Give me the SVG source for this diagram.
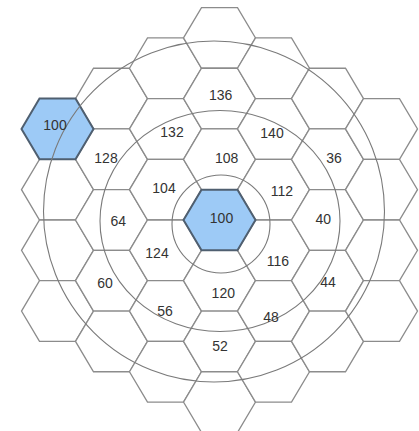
<svg xmlns="http://www.w3.org/2000/svg" xmlns:xlink="http://www.w3.org/1999/xlink" width="419" height="431" viewBox="0 0 419 431">
<style>
  .hex { fill: #ffffff; stroke: #8c8c8c; stroke-width: 1.3; }
  .sel { fill: #9dcaf6; stroke: #4f5f70; stroke-width: 2; }
  .ring { fill: none; stroke: #7a7a7a; stroke-width: 1.1; }
  .lbl { font-family: "Liberation Sans", Arial, sans-serif; font-size: 14px; fill: #333333; text-anchor: middle; }
</style>
<defs>
  <polygon id="h" points="-36,0 -18,-30.35 18,-30.35 36,0 18,30.35 -18,30.35"/>
</defs>
<rect width="419" height="431" fill="#ffffff"/>
<g id="cells">
  <!-- column k=-3 -->
  <g id="hex-m3-0"><use href="#h" class="hex" x="57.5" y="189.65"/></g>
  <g id="hex-m3-1"><use href="#h" class="hex" x="57.5" y="250.35"/></g>
  <g id="hex-m3-2"><use href="#h" class="hex" x="57.5" y="311.05"/></g>
  <!-- column k=-2 -->
  <g id="hex-m2-0"><use href="#h" class="hex" x="111.5" y="98.6"/></g>
  <g id="hex-128"><use href="#h" class="hex" x="111.5" y="159.3"/></g>
  <g id="hex-64"><use href="#h" class="hex" x="111.5" y="220"/></g>
  <g id="hex-60"><use href="#h" class="hex" x="111.5" y="280.7"/></g>
  <g id="hex-m2-4"><use href="#h" class="hex" x="111.5" y="341.4"/></g>
  <!-- column k=-1 -->
  <g id="hex-m1-0"><use href="#h" class="hex" x="165.5" y="68.25"/></g>
  <g id="hex-132"><use href="#h" class="hex" x="165.5" y="128.95"/></g>
  <g id="hex-104"><use href="#h" class="hex" x="165.5" y="189.65"/></g>
  <g id="hex-124"><use href="#h" class="hex" x="165.5" y="250.35"/></g>
  <g id="hex-56"><use href="#h" class="hex" x="165.5" y="311.05"/></g>
  <g id="hex-m1-5"><use href="#h" class="hex" x="165.5" y="371.75"/></g>
  <!-- column k=0 -->
  <g id="hex-0-0"><use href="#h" class="hex" x="219.5" y="37.9"/></g>
  <g id="hex-136"><use href="#h" class="hex" x="219.5" y="98.6"/></g>
  <g id="hex-108"><use href="#h" class="hex" x="219.5" y="159.3"/></g>
  <g id="hex-120"><use href="#h" class="hex" x="219.5" y="280.7"/></g>
  <g id="hex-52"><use href="#h" class="hex" x="219.5" y="341.4"/></g>
  <g id="hex-0-6"><use href="#h" class="hex" x="219.5" y="402.1"/></g>
  <!-- column k=1 -->
  <g id="hex-p1-0"><use href="#h" class="hex" x="273.5" y="68.25"/></g>
  <g id="hex-140"><use href="#h" class="hex" x="273.5" y="128.95"/></g>
  <g id="hex-112"><use href="#h" class="hex" x="273.5" y="189.65"/></g>
  <g id="hex-116"><use href="#h" class="hex" x="273.5" y="250.35"/></g>
  <g id="hex-48"><use href="#h" class="hex" x="273.5" y="311.05"/></g>
  <g id="hex-p1-5"><use href="#h" class="hex" x="273.5" y="371.75"/></g>
  <!-- column k=2 -->
  <g id="hex-p2-0"><use href="#h" class="hex" x="327.5" y="98.6"/></g>
  <g id="hex-36"><use href="#h" class="hex" x="327.5" y="159.3"/></g>
  <g id="hex-40"><use href="#h" class="hex" x="327.5" y="220"/></g>
  <g id="hex-44"><use href="#h" class="hex" x="327.5" y="280.7"/></g>
  <g id="hex-p2-4"><use href="#h" class="hex" x="327.5" y="341.4"/></g>
  <!-- column k=3 -->
  <g id="hex-p3-0"><use href="#h" class="hex" x="381.5" y="128.95"/></g>
  <g id="hex-p3-1"><use href="#h" class="hex" x="381.5" y="189.65"/></g>
  <g id="hex-p3-2"><use href="#h" class="hex" x="381.5" y="250.35"/></g>
  <g id="hex-p3-3"><use href="#h" class="hex" x="381.5" y="311.05"/></g>
  <!-- selected cells -->
  <g id="hex-100-left"><use href="#h" class="sel" x="57.5" y="128.95"/></g>
  <g id="hex-100-center"><use href="#h" class="sel" x="219.5" y="220"/></g>
</g>
<g id="rings">
  <circle class="ring" cx="221" cy="224" r="49"/>
  <ellipse class="ring" cx="220" cy="221" rx="120" ry="110.5"/>
  <circle class="ring" cx="214" cy="211.5" r="170.5"/>
</g>
<g id="labels">
  <text class="lbl" x="55" y="129.5">100</text>
  <text class="lbl" x="221.5" y="222.5">100</text>
  <text class="lbl" x="220.7" y="100">136</text>
  <text class="lbl" x="226.7" y="163.3">108</text>
  <text class="lbl" x="223.3" y="297.7">120</text>
  <text class="lbl" x="220" y="351">52</text>
  <text class="lbl" x="172" y="137">132</text>
  <text class="lbl" x="164" y="193">104</text>
  <text class="lbl" x="157" y="258">124</text>
  <text class="lbl" x="165" y="316">56</text>
  <text class="lbl" x="106" y="163">128</text>
  <text class="lbl" x="118.3" y="225.5">64</text>
  <text class="lbl" x="105" y="288">60</text>
  <text class="lbl" x="272" y="138">140</text>
  <text class="lbl" x="282" y="196">112</text>
  <text class="lbl" x="278" y="266">116</text>
  <text class="lbl" x="271" y="322">48</text>
  <text class="lbl" x="334" y="163">36</text>
  <text class="lbl" x="323.3" y="224.3">40</text>
  <text class="lbl" x="328" y="287">44</text>
</g>
</svg>
